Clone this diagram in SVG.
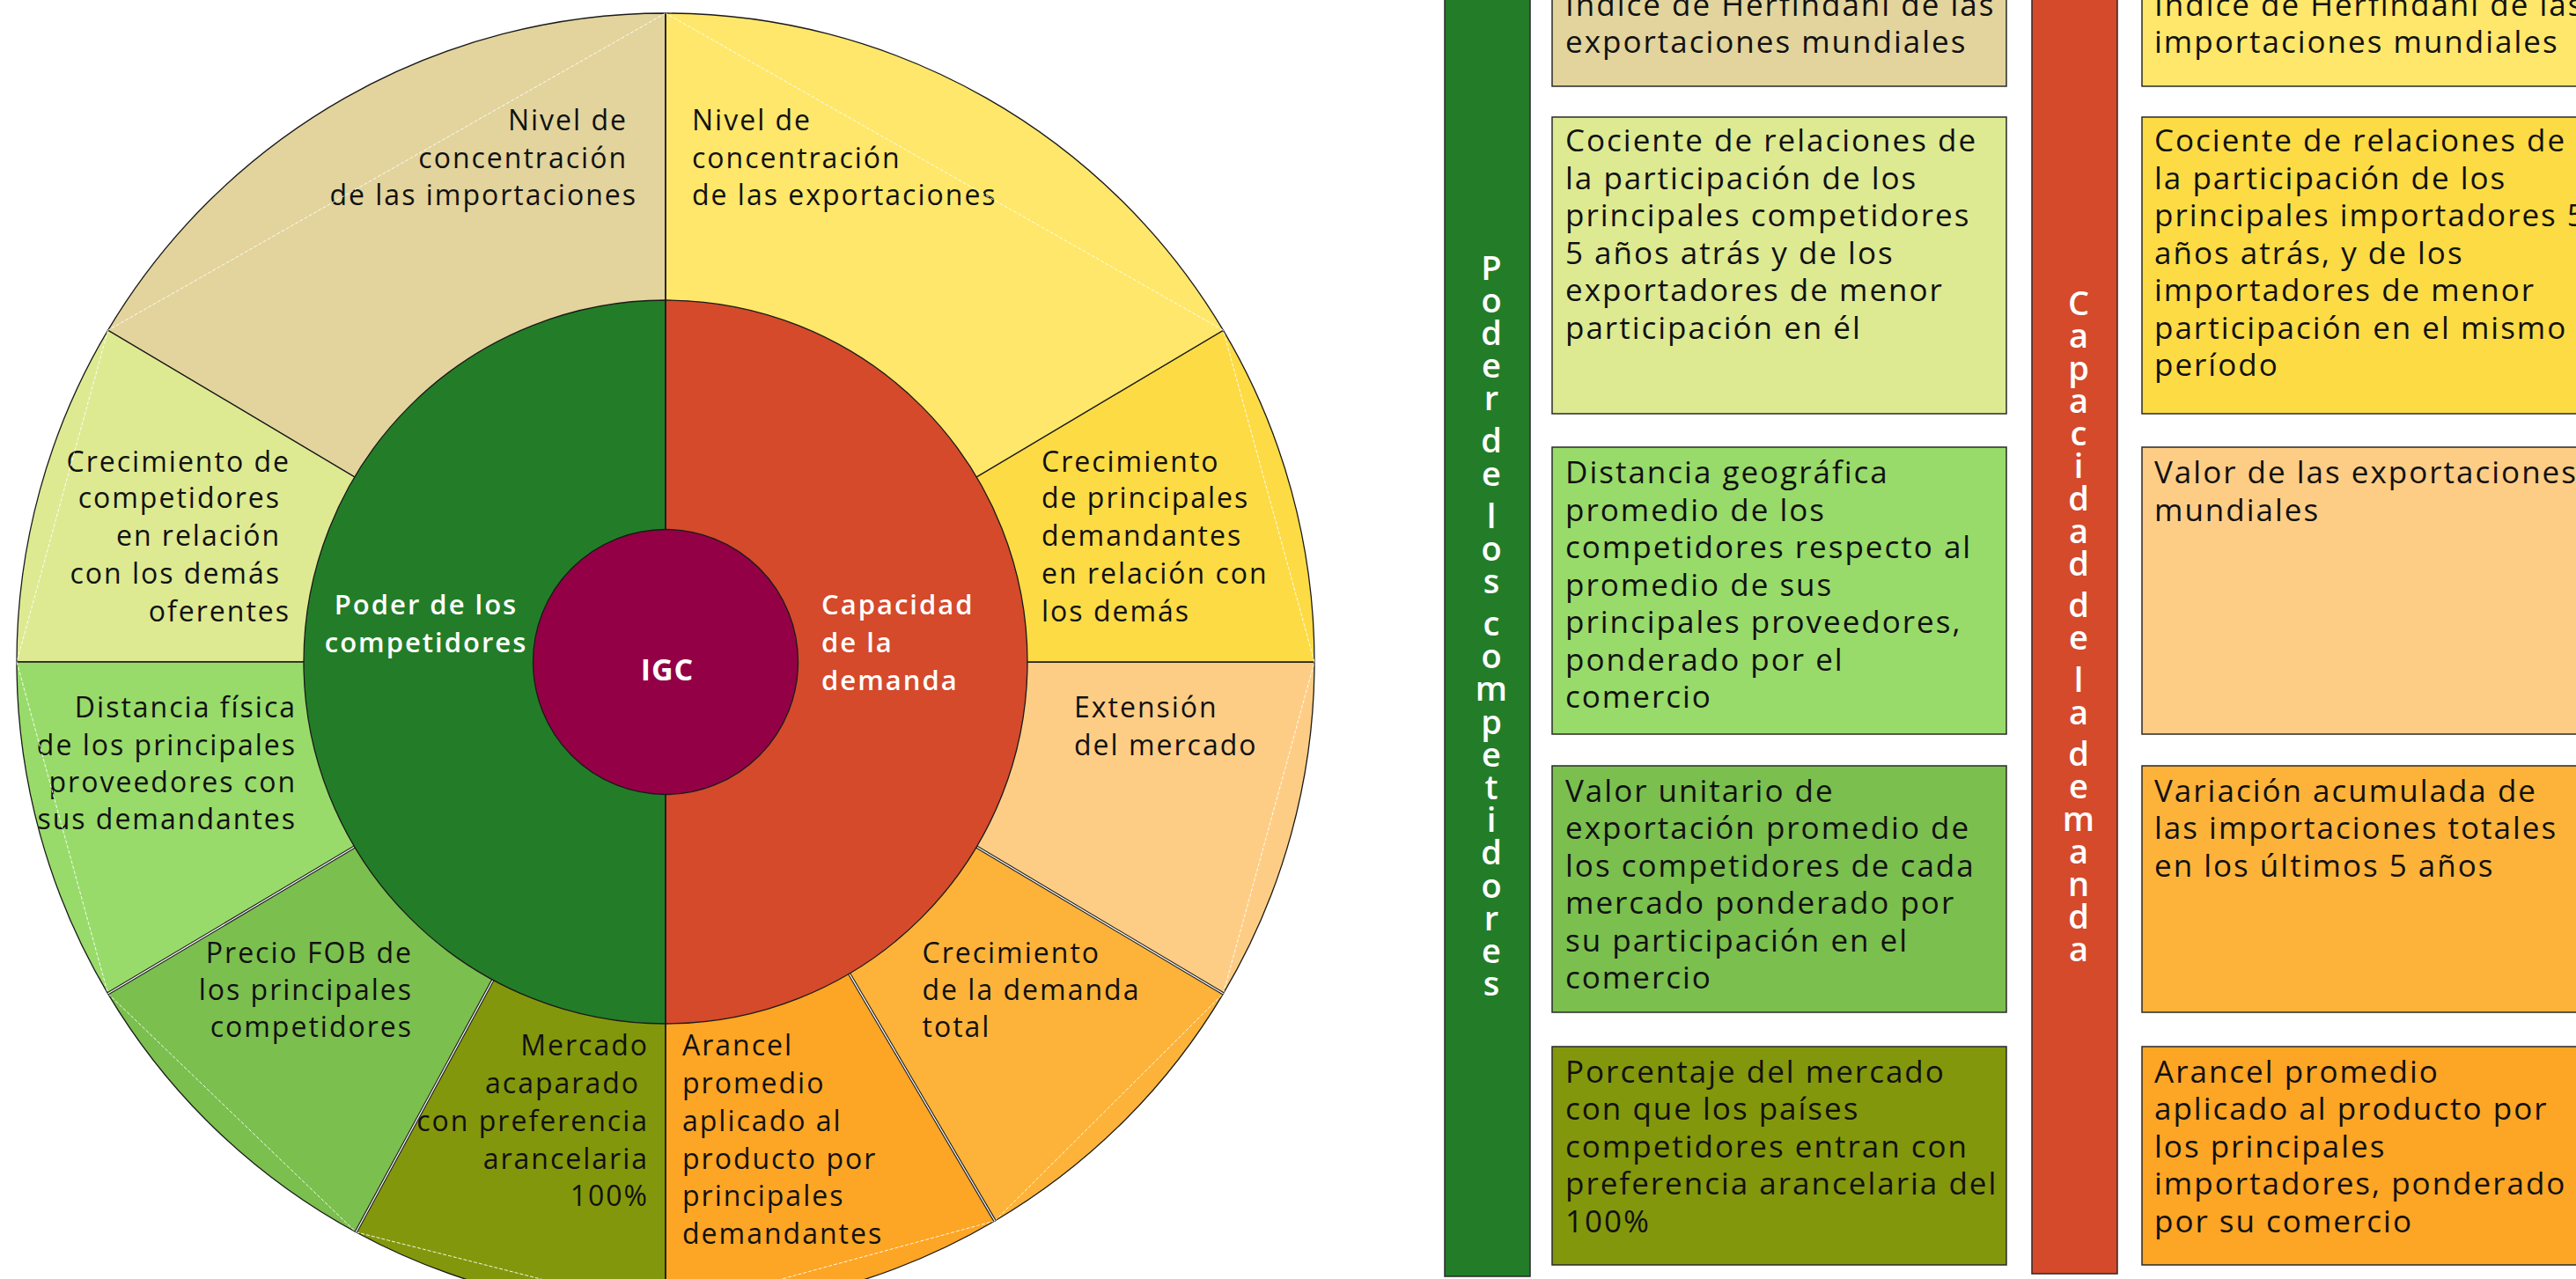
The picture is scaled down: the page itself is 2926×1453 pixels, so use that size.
<svg xmlns="http://www.w3.org/2000/svg" width="2926" height="1453" viewBox="0 0 2926 1453">
<style>
.t{font-family:"Open Sans","Liberation Sans",sans-serif;font-size:32px;letter-spacing:2px;fill:#111}
.e{text-anchor:end}
.bx{font-family:"Open Sans","Liberation Sans",sans-serif;font-size:35px;letter-spacing:2px;fill:#111}
.wl{font-family:"Open Sans","Liberation Sans",sans-serif;font-size:31px;font-weight:600;letter-spacing:2px;fill:#fff}
.v{font-family:"Open Sans","Liberation Sans",sans-serif;font-size:38px;font-weight:600;fill:#fff;text-anchor:middle}
.sec{stroke:#1a1a1a;stroke-width:1.3}
.ch{stroke:#fff;stroke-width:1;stroke-dasharray:4 2;fill:none;opacity:0.9}
.dbl{stroke:#222;stroke-width:3.5}
.dbw{stroke:#fff;stroke-width:1.2}
.box{stroke:#2a2a2a;stroke-width:1.5}
</style>
<rect width="2926" height="1453" fill="#fff"/>
<g id="wheel">
<g id="s-importaciones"><path class="sec" fill="#E2D49C" d="M756,752 L756,15 A737,737 0 0 0 122.6,375.2 Z"/>
<text class="t e"><tspan x="713" y="148">Nivel de</tspan><tspan x="713" y="190.5">concentración</tspan><tspan x="724" y="233">de las importaciones</tspan></text></g>
<g id="s-crec-competidores"><path class="sec" fill="#DDEA92" d="M756,752 L122.6,375.2 A737,737 0 0 0 19,752 Z"/>
<text class="t e"><tspan x="330" y="535.6">Crecimiento de</tspan><tspan x="319" y="577">competidores</tspan><tspan x="319" y="620">en relación</tspan><tspan x="319" y="663">con los demás</tspan><tspan x="330" y="705.5">oferentes</tspan></text></g>
<g id="s-distancia"><path class="sec" fill="#98DB6A" d="M756,752 L19,752 A737,737 0 0 0 122.6,1128.8 Z"/>
<text class="t e"><tspan x="337" y="815.3">Distancia física</tspan><tspan x="337" y="857.5">de los principales</tspan><tspan x="337" y="899.5">proveedores con</tspan><tspan x="337" y="942">sus demandantes</tspan></text></g>
<g id="s-precio"><path class="sec" fill="#7BBF4F" d="M756,752 L122.6,1128.8 A737,737 0 0 0 404.3,1399.7 Z"/>
<text class="t e"><tspan x="469" y="1094">Precio FOB de</tspan><tspan x="469" y="1136">los principales</tspan><tspan x="469" y="1178">competidores</tspan></text></g>
<g id="s-mercado"><path class="sec" fill="#83970C" d="M756,752 L404.3,1399.7 A737,737 0 0 0 756,1489 Z"/>
<text class="t e"><tspan x="737" y="1199.4">Mercado</tspan><tspan x="727" y="1242.1">acaparado</tspan><tspan x="737" y="1284.8">con preferencia</tspan><tspan x="737" y="1327.5">arancelaria</tspan><tspan x="737" y="1370.2">100%</tspan></text></g>
<g id="s-arancel"><path class="sec" fill="#FDA524" d="M756,752 L756,1489 A737,737 0 0 0 1130,1387 Z"/>
<text class="t"><tspan x="775" y="1199.4">Arancel</tspan><tspan x="775" y="1242.1">promedio</tspan><tspan x="775" y="1284.8">aplicado al</tspan><tspan x="775" y="1327.5">producto por</tspan><tspan x="775" y="1370.2">principales</tspan><tspan x="775" y="1412.9">demandantes</tspan></text></g>
<g id="s-crec-demanda"><path class="sec" fill="#FDB339" d="M756,752 L1130,1387 A737,737 0 0 0 1389.4,1128.8 Z"/>
<text class="t"><tspan x="1047.5" y="1094">Crecimiento</tspan><tspan x="1047.5" y="1136">de la demanda</tspan><tspan x="1047.5" y="1178">total</tspan></text></g>
<g id="s-extension"><path class="sec" fill="#FECD85" d="M756,752 L1389.4,1128.8 A737,737 0 0 0 1493,752 Z"/>
<text class="t"><tspan x="1220" y="815.3">Extensión</tspan><tspan x="1220" y="857.5">del mercado</tspan></text></g>
<g id="s-crec-demandantes"><path class="sec" fill="#FDDB45" d="M756,752 L1493,752 A737,737 0 0 0 1389.4,375.2 Z"/>
<text class="t"><tspan x="1183" y="535.6">Crecimiento</tspan><tspan x="1183" y="577">de principales</tspan><tspan x="1183" y="620">demandantes</tspan><tspan x="1183" y="663">en relación con</tspan><tspan x="1183" y="705.5">los demás</tspan></text></g>
<g id="s-exportaciones"><path class="sec" fill="#FEE76A" d="M756,752 L1389.4,375.2 A737,737 0 0 0 756,15 Z"/>
<text class="t"><tspan x="786" y="148">Nivel de</tspan><tspan x="786" y="190.5">concentración</tspan><tspan x="786" y="233">de las exportaciones</tspan></text></g>
<g id="chords">
<line class="ch" x1="756" y1="15" x2="122.6" y2="375.2"/>
<line class="ch" x1="122.6" y1="375.2" x2="19" y2="752"/>
<line class="ch" x1="19" y1="752" x2="122.6" y2="1128.8"/>
<line class="ch" x1="122.6" y1="1128.8" x2="404.3" y2="1399.7"/>
<line class="ch" x1="404.3" y1="1399.7" x2="756" y2="1489"/>
<line class="ch" x1="756" y1="1489" x2="1130" y2="1387"/>
<line class="ch" x1="1130" y1="1387" x2="1389.4" y2="1128.8"/>
<line class="ch" x1="1389.4" y1="1128.8" x2="1493" y2="752"/>
<line class="ch" x1="1493" y1="752" x2="1389.4" y2="375.2"/>
<line class="ch" x1="1389.4" y1="375.2" x2="756" y2="15"/>
</g>
<g id="double-borders">
<line class="dbl" x1="402.8" y1="962.1" x2="122.6" y2="1128.8"/><line class="dbw" x1="402.8" y1="962.1" x2="122.6" y2="1128.8"/>
<line class="dbl" x1="559.9" y1="1113.2" x2="404.3" y2="1399.7"/><line class="dbw" x1="559.9" y1="1113.2" x2="404.3" y2="1399.7"/>
<line class="dbl" x1="964.6" y1="1106.1" x2="1130" y2="1387"/><line class="dbw" x1="964.6" y1="1106.1" x2="1130" y2="1387"/>
<line class="dbl" x1="1109.2" y1="962.1" x2="1389.4" y2="1128.8"/><line class="dbw" x1="1109.2" y1="962.1" x2="1389.4" y2="1128.8"/>
</g>
<g id="poder"><path class="sec" fill="#237D28" d="M756,341 A411,411 0 0 0 756,1163 Z"/>
<text class="wl" text-anchor="middle"><tspan x="484" y="698">Poder de los</tspan><tspan x="484" y="741">competidores</tspan></text></g>
<g id="capacidad"><path class="sec" fill="#D44A2B" d="M756,341 A411,411 0 0 1 756,1163 Z"/>
<text class="wl"><tspan x="933" y="698">Capacidad</tspan><tspan x="933" y="741">de la</tspan><tspan x="933" y="784">demanda</tspan></text></g>
<line x1="756" y1="15" x2="756" y2="1489" stroke="#1a1a1a" stroke-width="1.3"/>
<g id="igc"><circle cx="756" cy="752" r="150.5" fill="#930045" stroke="#1a1a1a" stroke-width="1.3"/>
<text class="wl" x="758" y="773" text-anchor="middle" style="font-size:34px;font-weight:700;letter-spacing:1px">IGC</text></g>
</g>
<g id="bar-poder"><rect class="box" x="1641" y="-5" width="97" height="1455" fill="#237D28"/>
<text class="v"><tspan x="1694" y="317.5">P</tspan><tspan x="1694" y="354.7">o</tspan><tspan x="1694" y="391.9">d</tspan><tspan x="1694" y="429.1">e</tspan><tspan x="1694" y="466.3">r</tspan><tspan x="1694" y="514.3">d</tspan><tspan x="1694" y="551.5">e</tspan><tspan x="1694" y="599.5">l</tspan><tspan x="1694" y="636.7">o</tspan><tspan x="1694" y="673.9">s</tspan><tspan x="1694" y="721.9">c</tspan><tspan x="1694" y="759.1">o</tspan><tspan x="1694" y="796.3">m</tspan><tspan x="1694" y="833.5">p</tspan><tspan x="1694" y="870.7">e</tspan><tspan x="1694" y="907.9">t</tspan><tspan x="1694" y="945.1">i</tspan><tspan x="1694" y="982.3">d</tspan><tspan x="1694" y="1019.5">o</tspan><tspan x="1694" y="1056.7">r</tspan><tspan x="1694" y="1093.9">e</tspan><tspan x="1694" y="1131.1">s</tspan></text></g>
<g id="bar-capacidad"><rect class="box" x="2308" y="-5" width="97" height="1452" fill="#D44A2B"/>
<text class="v"><tspan x="2361" y="357.7">C</tspan><tspan x="2361" y="394.7">a</tspan><tspan x="2361" y="431.7">p</tspan><tspan x="2361" y="468.7">a</tspan><tspan x="2361" y="505.7">c</tspan><tspan x="2361" y="542.7">i</tspan><tspan x="2361" y="579.7">d</tspan><tspan x="2361" y="616.7">a</tspan><tspan x="2361" y="653.7">d</tspan><tspan x="2361" y="701.2">d</tspan><tspan x="2361" y="738.2">e</tspan><tspan x="2361" y="785.7">l</tspan><tspan x="2361" y="822.7">a</tspan><tspan x="2361" y="870.2">d</tspan><tspan x="2361" y="907.2">e</tspan><tspan x="2361" y="944.2">m</tspan><tspan x="2361" y="981.2">a</tspan><tspan x="2361" y="1018.2">n</tspan><tspan x="2361" y="1055.2">d</tspan><tspan x="2361" y="1092.2">a</tspan></text></g>
<g id="b-l1"><rect class="box" x="1763" y="-10" width="516" height="108" fill="#E2D49C"/>
<text class="bx"><tspan x="1778" y="17.5">Índice de Herfindahl de las</tspan><tspan x="1778" y="60">exportaciones mundiales</tspan></text></g>
<g id="b-l2"><rect class="box" x="1763" y="133" width="516" height="337" fill="#DDEA92"/>
<text class="bx"><tspan x="1778" y="172">Cociente de relaciones de</tspan><tspan x="1778" y="214.5">la participación de los</tspan><tspan x="1778" y="257">principales competidores</tspan><tspan x="1778" y="299.5">5 años atrás y de los</tspan><tspan x="1778" y="342">exportadores de menor</tspan><tspan x="1778" y="384.5">participación en él</tspan></text></g>
<g id="b-l3"><rect class="box" x="1763" y="508" width="516" height="326" fill="#98DB6A"/>
<text class="bx"><tspan x="1778" y="549">Distancia geográfica</tspan><tspan x="1778" y="591.5">promedio de los</tspan><tspan x="1778" y="634">competidores respecto al</tspan><tspan x="1778" y="676.5">promedio de sus</tspan><tspan x="1778" y="719">principales proveedores,</tspan><tspan x="1778" y="761.5">ponderado por el</tspan><tspan x="1778" y="804">comercio</tspan></text></g>
<g id="b-l4"><rect class="box" x="1763" y="870" width="516" height="280" fill="#7BBF4F"/>
<text class="bx"><tspan x="1778" y="910.5">Valor unitario de</tspan><tspan x="1778" y="953">exportación promedio de</tspan><tspan x="1778" y="995.5">los competidores de cada</tspan><tspan x="1778" y="1038">mercado ponderado por</tspan><tspan x="1778" y="1080.5">su participación en el</tspan><tspan x="1778" y="1123">comercio</tspan></text></g>
<g id="b-l5"><rect class="box" x="1763" y="1189" width="516" height="248" fill="#83970C"/>
<text class="bx"><tspan x="1778" y="1229.5">Porcentaje del mercado</tspan><tspan x="1778" y="1272">con que los países</tspan><tspan x="1778" y="1314.5">competidores entran con</tspan><tspan x="1778" y="1357">preferencia arancelaria del</tspan><tspan x="1778" y="1399.5">100%</tspan></text></g>
<g id="b-r1"><rect class="box" x="2433" y="-10" width="600" height="108" fill="#FEE76A"/>
<text class="bx"><tspan x="2447" y="17.5">Índice de Herfindahl de las</tspan><tspan x="2447" y="60">importaciones mundiales</tspan></text></g>
<g id="b-r2"><rect class="box" x="2433" y="133" width="600" height="337" fill="#FDDB45"/>
<text class="bx"><tspan x="2447" y="172">Cociente de relaciones de</tspan><tspan x="2447" y="214.5">la participación de los</tspan><tspan x="2447" y="257">principales importadores 5</tspan><tspan x="2447" y="299.5">años atrás, y de los</tspan><tspan x="2447" y="342">importadores de menor</tspan><tspan x="2447" y="384.5">participación en el mismo</tspan><tspan x="2447" y="427">período</tspan></text></g>
<g id="b-r3"><rect class="box" x="2433" y="508" width="600" height="326" fill="#FECD85"/>
<text class="bx"><tspan x="2447" y="549">Valor de las exportaciones</tspan><tspan x="2447" y="591.5">mundiales</tspan></text></g>
<g id="b-r4"><rect class="box" x="2433" y="870" width="600" height="280" fill="#FDB339"/>
<text class="bx"><tspan x="2447" y="910.5">Variación acumulada de</tspan><tspan x="2447" y="953">las importaciones totales</tspan><tspan x="2447" y="995.5">en los últimos 5 años</tspan></text></g>
<g id="b-r5"><rect class="box" x="2433" y="1189" width="600" height="248" fill="#FDA524"/>
<text class="bx"><tspan x="2447" y="1229.5">Arancel promedio</tspan><tspan x="2447" y="1272">aplicado al producto por</tspan><tspan x="2447" y="1314.5">los principales</tspan><tspan x="2447" y="1357">importadores, ponderado</tspan><tspan x="2447" y="1399.5">por su comercio</tspan></text></g>
<g id="connectors"/>
</svg>
